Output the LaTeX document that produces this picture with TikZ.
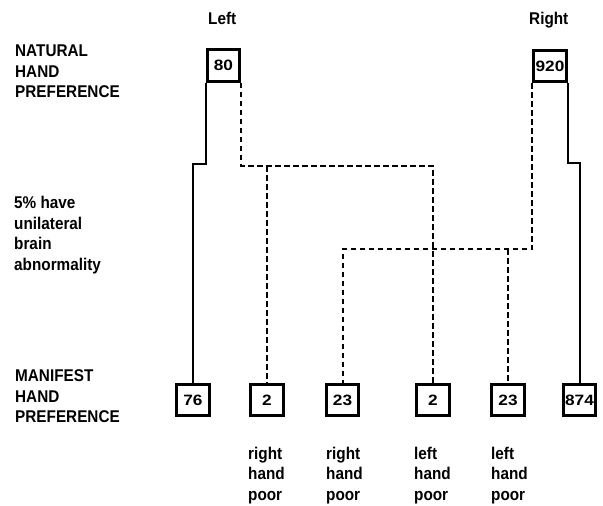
\documentclass[tikz,border=0pt]{standalone}
\usepackage{fontspec}
\setmainfont{Liberation Sans}[FakeStretch=0.9]
\newfontfamily\numfont{Liberation Sans}[FakeStretch=1.15]
\begin{document}
\begin{tikzpicture}[x=1pt,y=-1pt,
  numbox/.style={draw, line width=3pt, minimum width=32.5pt, minimum height=31.5pt, inner sep=0pt,
    font=\numfont\bfseries\fontsize{15}{15}\selectfont},
  conn/.style={line width=2pt},
  dconn/.style={conn, dash pattern=on 5.5pt off 3.5pt},
  lbl/.style={anchor=north west, align=left, inner sep=0pt,
    font=\bfseries\fontsize{17}{20.7}\selectfont}]
\useasboundingbox (0,0) rectangle (603,506);
% column heads
\node[lbl] (hl) at (208,11.5) {Left};
\node[lbl] (hr) at (529,12) {Right};
% row labels
\node[lbl] (l1) at (15,44.5) {NATURAL\\HAND\\PREFERENCE};
\node[lbl] (l2) at (14,196) {5\% have\\unilateral\\brain\\abnormality};
\node[lbl] (l3) at (15,369.5) {MANIFEST\\HAND\\PREFERENCE};
% boxes
\node[numbox] (b80) at (223.5,65.5) {80};
\node[numbox] (b920) at (550,66) {920};
\node[numbox] (b76) at (193,400) {76};
\node[numbox] (b2a) at (267,400) {2};
\node[numbox] (b23a) at (342.5,400) {23};
\node[numbox] (b2b) at (433,400) {2};
\node[numbox] (b23b) at (508,400) {23};
\node[numbox] (b874) at (579.5,400) {874};
% bottom labels
\node[lbl] (t1) at (248,446.5) {right\\hand\\poor};
\node[lbl] (t2) at (326,446.5) {right\\hand\\poor};
\node[lbl] (t3) at (414,446.5) {left\\hand\\poor};
\node[lbl] (t4) at (491,446.5) {left\\hand\\poor};
% junctions
\coordinate (jA) at (b2a.north |- 0,166);
\coordinate (jB) at (b23b.north |- 0,249);
% solid connectors
\draw[conn] (b80.south west) -- ++(0,81) -| (b76.north);
\draw[conn] (b920.south east) -- ++(0,80) -| (b874.north);
% dashed connectors
\draw[dconn] (b80.south east) |- (b2b.north |- 0,166) -- (b2b.north);
\draw[dconn] (jA) -- (b2a.north);
\draw[dconn] (b920.south west) |- (b23a.north |- 0,249) -- (b23a.north);
\draw[dconn] (jB) -- (b23b.north);
\end{tikzpicture}
\end{document}
